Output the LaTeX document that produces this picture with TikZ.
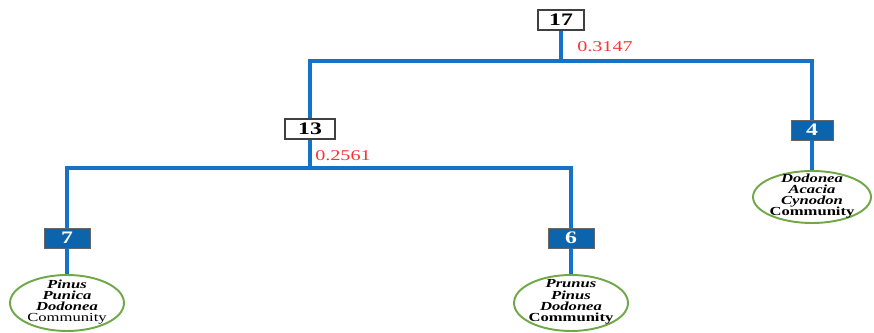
\documentclass[tikz,border=0pt]{standalone}
\usepackage{fontspec}
\setmainfont{Liberation Serif}
\newfontfamily\wideserif[FakeStretch=1.35]{Liberation Serif}
\usetikzlibrary{shapes.geometric, positioning, calc}
\definecolor{linkblue}{RGB}{20,115,200}
\definecolor{boxblue}{RGB}{12,100,172}
\definecolor{ringgreen}{RGB}{112,168,72}
\definecolor{distred}{RGB}{250,50,50}

\tikzset{
    merge/.style={draw=black!75, fill=white, line width=0.6pt, minimum width=0.92cm,
        minimum height=0.4cm, inner sep=0pt, font=\wideserif\bfseries\fontsize{10}{10}\selectfont},
    leaf/.style={draw=black!60, fill=boxblue, text=white, line width=0.4pt,
        minimum width=0.92cm, minimum height=0.4cm, inner sep=0pt,
        font=\wideserif\bfseries\fontsize{10}{10}\selectfont},
    ring/.style={ellipse, draw=ringgreen, line width=1.1pt, fill=white,
        minimum width=2.28cm, minimum height=1.12cm, inner sep=0pt},
    members/.style={align=center, inner sep=0pt,
        font=\wideserif\bfseries\itshape\fontsize{7}{6.4}\selectfont},
    dist/.style={text=distred, inner sep=0pt, font=\wideserif\fontsize{8.5}{8.5}\selectfont},
    link/.style={draw=linkblue, line width=1.8pt},
}

\begin{document}
\begin{tikzpicture}[x=0.02cm, y=-0.02cm]
    \useasboundingbox (0,0) rectangle (874,333);

    % merge steps
    \node[merge] (n17) at (561,20) {17};
    \node[merge, minimum width=1cm] (n13) at (310,129) {13};
    \coordinate (j17) at (561,61);
    \coordinate (j13) at (310,168);

    % clusters
    \foreach \n/\x/\y/\w in {4/812/130/0.84, 7/67/238/0.92, 6/571/238/0.92}
        \node[leaf, minimum width=\w cm] (n\n) at (\x,\y) {\n};

    \node[ring, minimum width=2.36cm, minimum height=1.04cm] (c4) at (812,197) {};
    \node[ring] (c7) at (67,303) {};
    \node[ring] (c6) at (571,303) {};

    \node[members] at ([yshift=0.02cm]c4) {Dodonea\\Acacia\\Cynodon\\\upshape Community};
    \node[members] at ([yshift=0.02cm]c7) {Pinus\\Punica\\Dodonea\\\upshape\mdseries Community};
    \node[members] at ([yshift=0.02cm]c6) {Prunus\\Pinus\\Dodonea\\\upshape Community};

    % links
    \draw[link] (n17) -- (j17);
    \draw[link] (n13.north) |- (j17) -| (n4.north);
    \draw[link] (n13) -- (j13);
    \draw[link] (n7.north) |- (j13) -| (n6.north);
    \foreach \n in {4,7,6}
        \draw[link] (n\n) -- (c\n);

    % distances
    \node[dist] (d17) at (605,47) {0.3147};
    \node[dist] (d13) at (343,156) {0.2561};
\end{tikzpicture}
\end{document}
